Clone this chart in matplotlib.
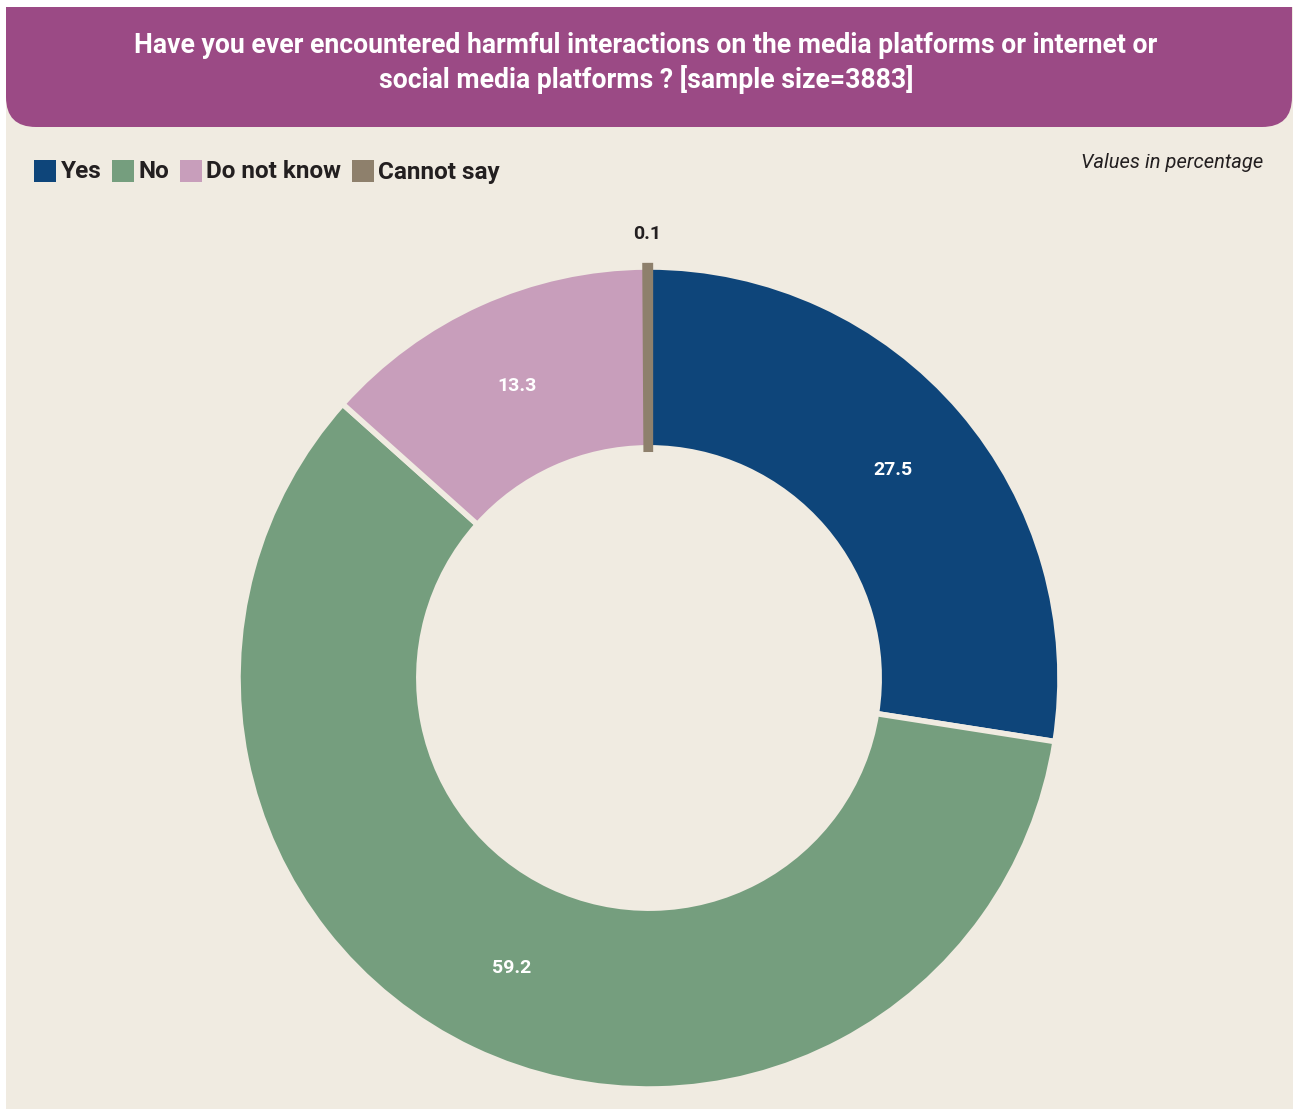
import numpy as np
import matplotlib.pyplot as plt
from matplotlib.patches import Rectangle, FancyBboxPatch

# survey answers, percent
answers = ['Yes', 'No', 'Do not know', 'Cannot say']
shares = [27.5, 59.2, 13.3, 0.1]
colors = ['#0E457A', '#759E7E', '#C89EBB', '#8E806C']

title = ('Have you ever encountered harmful interactions on the media platforms or internet or\n'
         'social media platforms ? [sample size=3883]')
note = 'Values in percentage'

bg = '#F0EBE1'
purple = '#9B4A85'
ink = '#231F20'
plt.rcParams['font.family'] = ['Roboto', 'DejaVu Sans']

W, H = 1293, 1111
fig = plt.figure(figsize=(W / 100, H / 100), dpi=100, facecolor='white')

# background layer in pixel coordinates
bgax = fig.add_axes([0, 0, 1, 1], zorder=0)
bgax.set_xlim(0, W)
bgax.set_ylim(H, 0)
bgax.axis('off')
panel = Rectangle((6, 7), W - 6, 1102, facecolor=bg, edgecolor='none')
bgax.add_patch(panel)
header = FancyBboxPatch((6, -60), 1286, 187, boxstyle='round,pad=0,rounding_size=30',
                        facecolor=purple, edgecolor='none')
bgax.add_patch(header)
header.set_clip_path(panel)
bgax.text(646, 63, title, color='white', fontsize=19.2, fontweight='bold',
          ha='center', va='center', linespacing=1.3)
bgax.text(1263, 163, note, color=ink, fontsize=14.5, fontstyle='italic',
          ha='right', va='center')

# legend row
x = 34
for name, c in zip(answers, colors):
    bgax.add_patch(Rectangle((x, 160), 22, 22, facecolor=c, edgecolor='none'))
    t = bgax.text(x + 27, 172, name, color=ink, fontsize=17.5, fontweight='bold',
                  ha='left', va='center')
    fig.canvas.draw()
    bb = t.get_window_extent()
    x = bb.x1 + 10

# donut
ax = fig.add_axes([238 / W, 22 / H, 822 / W, 822 / H], zorder=1)
ax.set_facecolor('none')
wedges, _ = ax.pie(shares, colors=colors, startangle=90, counterclock=False, radius=1,
                   wedgeprops=dict(width=0.44, edgecolor=bg, linewidth=4))
# keep the tiny slice visible
wedges[3].set_edgecolor(colors[3])
wedges[3].set_linewidth(6)
wedges[3].set_zorder(3)
ax.set_xlim(-1, 1)
ax.set_ylim(-1, 1)
ax.set_aspect('equal')
ax.axis('off')

for w, v in zip(wedges, shares):
    mid = np.deg2rad((w.theta1 + w.theta2) / 2)
    if v < 1:
        r, col = 1.08, ink
    else:
        r, col = 0.78, 'white'
    ax.text(r * np.cos(mid), r * np.sin(mid), f'{v:.1f}', color=col, fontsize=14,
            fontweight='bold', ha='center', va='center')

fig.savefig('out.png', dpi=100, facecolor='white')
